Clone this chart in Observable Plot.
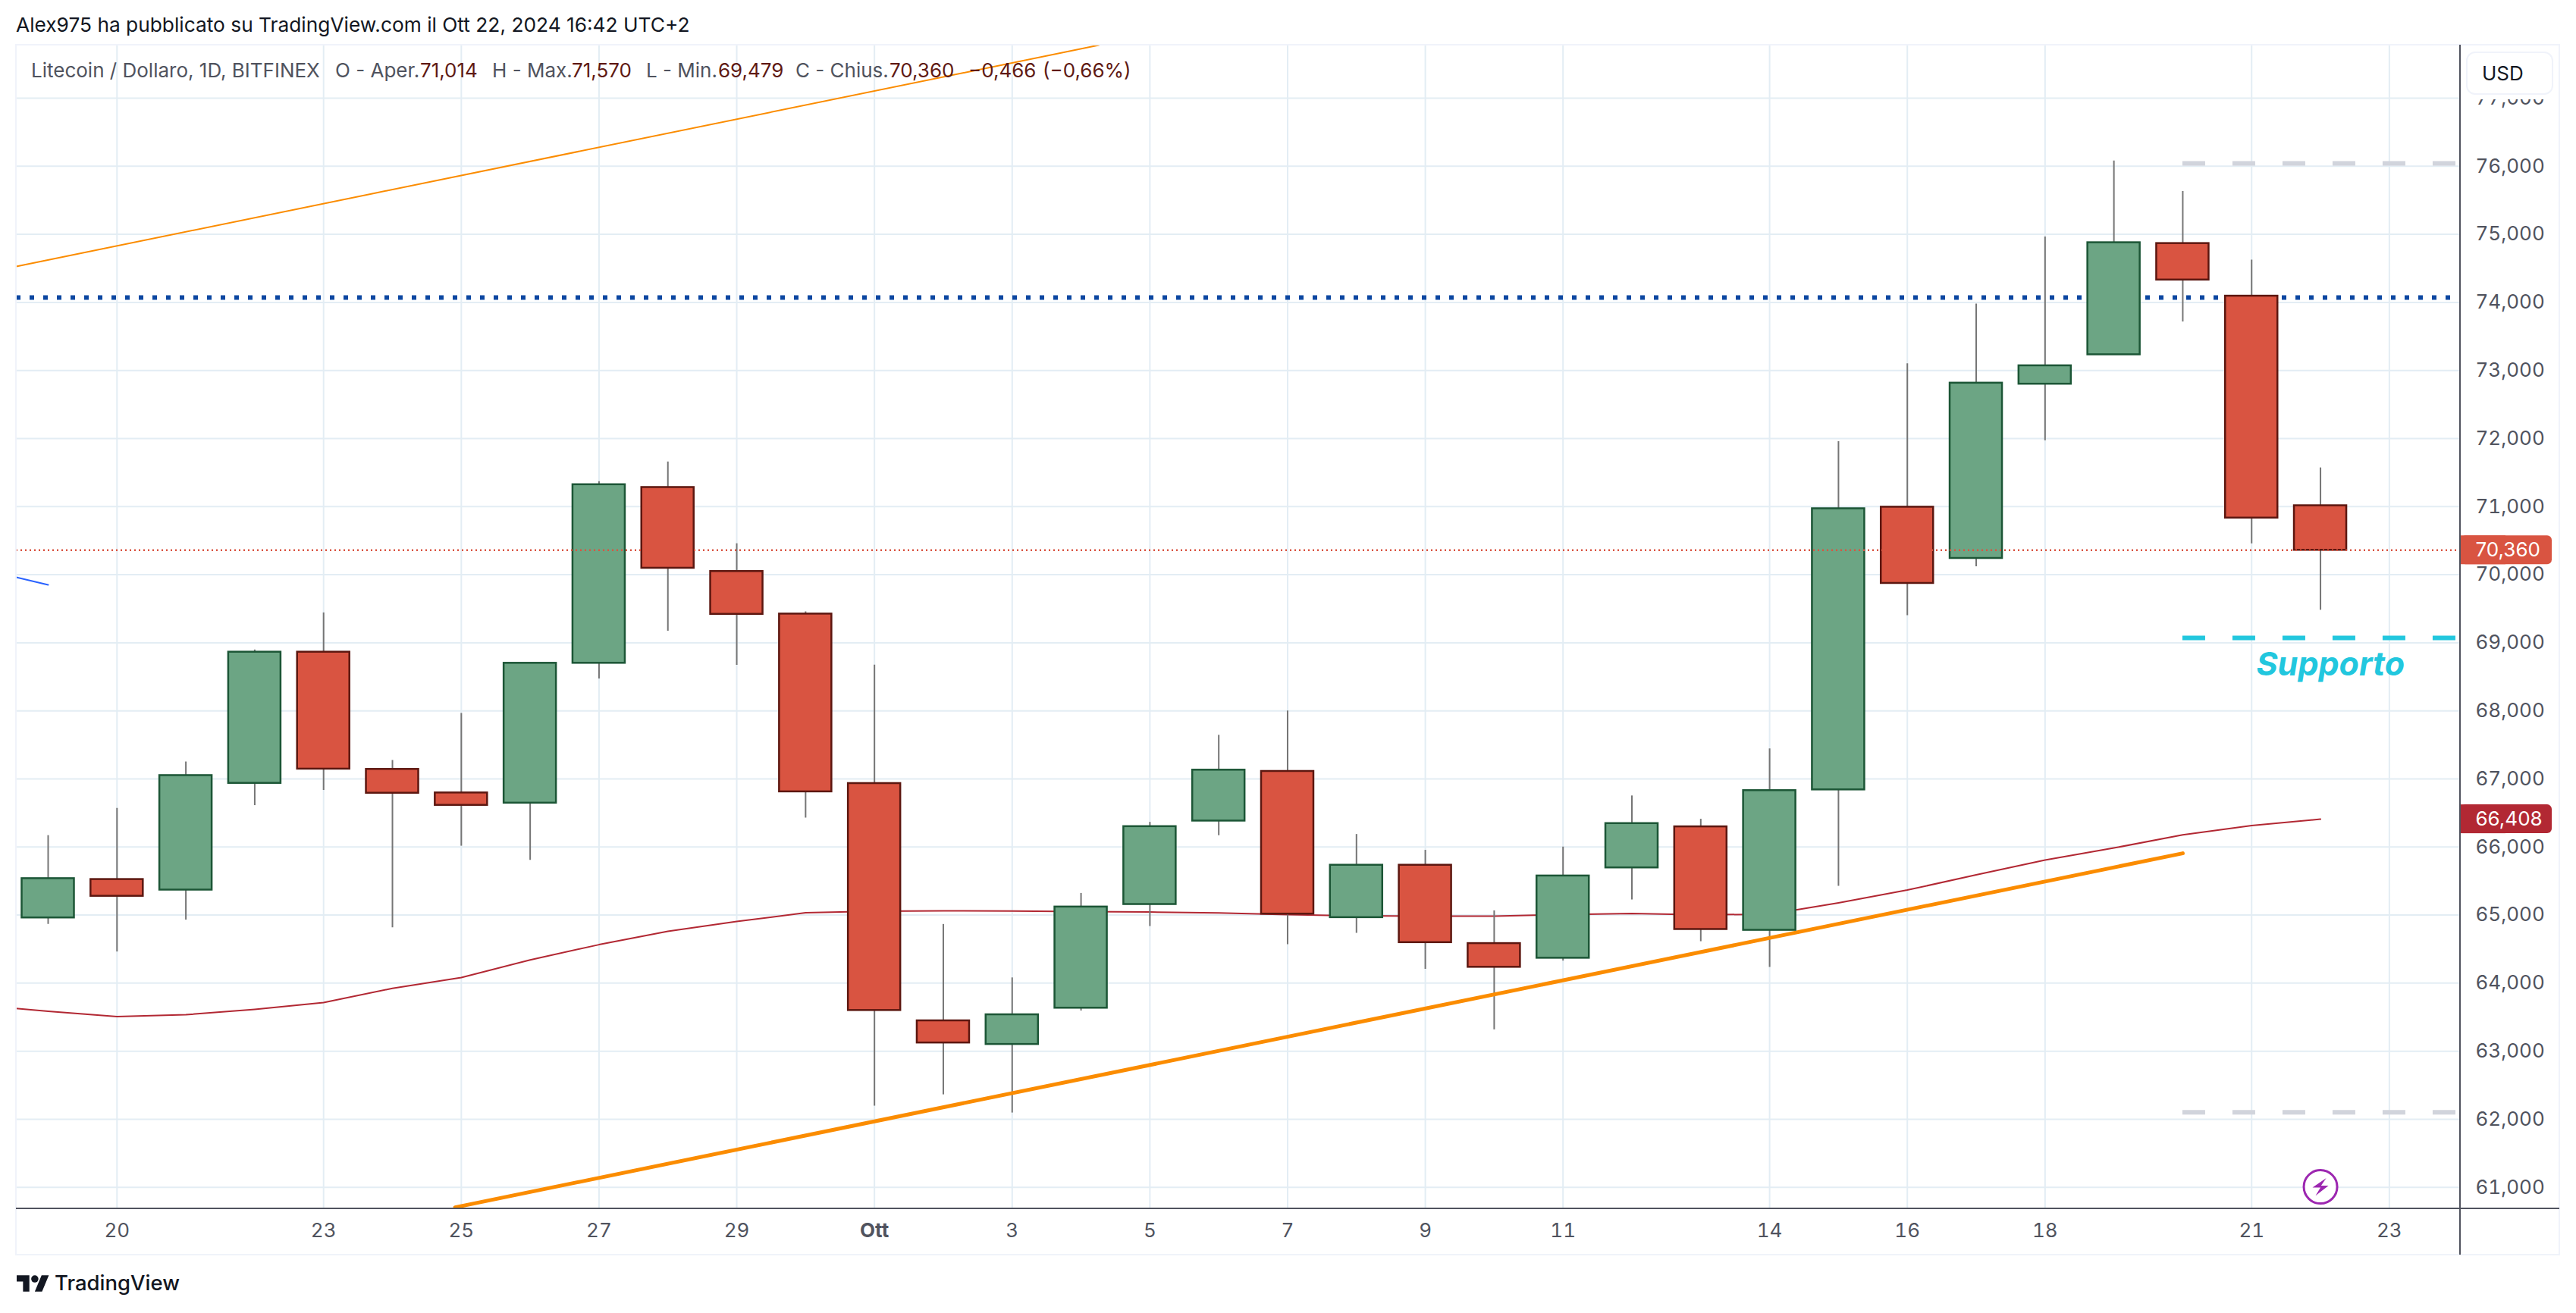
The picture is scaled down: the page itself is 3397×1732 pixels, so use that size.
<!DOCTYPE html>
<html lang="it">
<head>
<meta charset="utf-8">
<script src="https://cdn.jsdelivr.net/npm/d3@7"></script>
<script src="https://cdn.jsdelivr.net/npm/@observablehq/plot@0.6"></script>
<style>
  html, body { margin:0; padding:0; background:#fff; overflow:hidden; }
  body { width:3397px; height:1732px; position:relative; font-family:Inter,sans-serif; }
  #header { height:58px; position:relative; }
  #header span { position:absolute; left:21px; top:17px; font-size:26.3px; line-height:31px; color:#131722; white-space:nowrap; }
  #chart { height:1597px; position:relative; }
  #chart svg { display:block; }
  #footer { height:77px; position:relative; }
  .frame { position:absolute; left:20px; top:58px; width:3356px; height:1598px; box-sizing:border-box; border:2px solid #f0f3fa; pointer-events:none; }
  .bar { position:absolute; background:#50535e; }
  #legend span { position:absolute; top:78px; font-size:26px; line-height:30px; white-space:nowrap; color:#50535e; }
  #legend span.v { color:#5f1a14; }
  #usd { position:absolute; left:3252px; top:68px; width:115px; height:57px; box-sizing:border-box; background:#fff; border:2px solid #f0f3fa; border-radius:12px; font-size:26px; line-height:53px; padding-left:19px; color:#131722; box-shadow:0 6px 0 #fff; }
  #wordmark { position:absolute; left:72px; top:1675px; font-size:27.5px; line-height:34px; font-weight:500; color:#131722; }
  #logo { position:absolute; left:22px; top:1682px; }
</style>
</head>
<body>
<div id="header"><span>Alex975 ha pubblicato su TradingView.com il Ott 22, 2024 16:42 UTC+2</span></div>
<div id="chart"></div>
<div id="footer"></div>
<div class="frame"></div>
<div class="bar" style="left:3243px;top:59px;width:2px;height:1596px"></div>
<div class="bar" style="left:21px;top:1593px;width:3354px;height:2px"></div>
<div id="legend"></div>
<div id="usd">USD</div>
<svg id="logo" width="43" height="22" viewBox="0 4 36 18"><path fill="#131722" d="M14 22H7V11H0V4h14v18zM28 22h-8l7.5-18h8L28 22z"/><circle fill="#131722" cx="20" cy="8" r="4"/></svg>
<div id="wordmark">TradingView</div>
<script>
const days = ["2024-09-19","2024-09-20","2024-09-21","2024-09-22","2024-09-23","2024-09-24","2024-09-25","2024-09-26","2024-09-27","2024-09-28","2024-09-29","2024-09-30","2024-10-01","2024-10-02","2024-10-03","2024-10-04","2024-10-05","2024-10-06","2024-10-07","2024-10-08","2024-10-09","2024-10-10","2024-10-11","2024-10-12","2024-10-13","2024-10-14","2024-10-15","2024-10-16","2024-10-17","2024-10-18","2024-10-19","2024-10-20","2024-10-21","2024-10-22"];
const opens  = [64959,65523,65368,66936,68863,67141,66795,66645,68700,71282,70048,69423,66933,63447,63100,63633,65156,66382,67111,64963,65733,64582,64367,65694,66297,64777,66840,70993,70240,72800,73232,74866,74093,71014];
const highs  = [66168,66568,67250,68895,69440,67272,67963,68700,71367,71657,70456,69456,68672,64863,64078,65319,66363,67642,68000,66185,65952,65063,66000,66751,66408,67441,71955,73100,73978,74963,76078,75631,74623,71570];
const lows   = [64864,64459,64927,66609,66832,64814,66013,65804,68469,69171,68670,66425,62193,62360,62093,63592,64833,66167,64566,64733,64204,63315,64326,65223,64610,64232,65423,69400,70117,71970,73232,73714,70454,69479];
const closes = [65536,65277,67050,68863,67145,66791,66613,68700,71323,70096,69419,66811,63599,63122,63536,65119,66300,67130,65015,65733,64596,64234,65575,66345,64789,66829,70970,69873,72815,73070,74878,74330,70833,70360];
const maValues = [63675,63586,63509,63536,63614,63714,63923,64082,64341,64565,64760,64905,65033,65055,65063,65059,65052,65044,65030,65007,64989,64985,64985,65007,65022,65004,65011,65178,65367,65590,65807,65985,66178,66315,66408];
const maDays = ["2024-09-18", ...days];

const tickDays   = ["2024-09-20","2024-09-23","2024-09-25","2024-09-27","2024-09-29","2024-10-03","2024-10-05","2024-10-07","2024-10-09","2024-10-11","2024-10-14","2024-10-16","2024-10-18","2024-10-21","2024-10-23"];
const tickLabels = ["20","23","25","27","29","3","5","7","9","11","14","16","18","21","23"];
const monthDay = "2024-10-01", monthLabel = "Ott";
const priceTicks = [61000,62000,63000,64000,65000,66000,67000,68000,69000,70000,71000,72000,73000,74000,75000,76000,77000];

const upperTrendDays = ["2024-09-18T12:54Z","2024-10-04T06:15Z"], upperTrendPrices = [74528,77780];
const lowerTrendDays = ["2024-09-24T21:50Z","2024-10-20"],        lowerTrendPrices = [60706,65907];
const blueRay = [["2024-09-18T12:54Z",69962],["2024-09-19",69850]];
const hLevel = 74071, lastPrice = 70360, lastMA = 66408, support = 69070, upperBand = 76042, lowerBand = 62102;
const bandStart = "2024-10-20", eventDay = "2024-10-22", eventPrice = 61007;
const noteLabel = "Supporto", noteDay = "2024-10-22T03:30Z", notePrice = 68670;

const legendItems = [
  ["Litecoin / Dollaro, 1D, BITFINEX",41,""],["O - Aper.",442,""],["71,014",554,"v"],["H - Max.",649,""],["71,570",754,"v"],
  ["L - Min.",852,""],["69,479",947,"v"],["C - Chius.",1049,""],["70,360",1173,"v"],["\u22120,466",1277,"v"],["(\u22120,66%)",1375,"v"]
];

const D = s => new Date(s);
const candles = days.map((d,i)=>({date:D(d),open:opens[i],high:highs[i],low:lows[i],close:closes[i],up:closes[i]>=opens[i]}));
const ma = maDays.map((d,i)=>({date:D(d),value:maValues[i]}));

const xDomain = [D("2024-09-18T12:54Z"), D("2024-10-24T00:45Z")];
const yDomain = [60685, 77780];
const gridCol = "#e3edf4", axisCol = "#50535e";
const green="#6ca584", greenDark="#1c5636", red="#d95441", redDark="#5c1710", maCol="#b22833", orange="#fb8c00";

const bolt = { draw(c){ c.moveTo(7.6,-11.7); c.lineTo(-10.6,1); c.lineTo(0,1); c.lineTo(-6.5,11.7); c.lineTo(10.6,-1.7); c.lineTo(0.8,-1.7); c.closePath(); } };

const labelRect = (p,fill) => [
  Plot.rect([p],{x1:()=>xDomain[1],x2:()=>xDomain[1],y1:d=>d,y2:d=>d,insetLeft:1,insetRight:-121,insetTop:-19,insetBottom:-19,fill,rx:6}),
  Plot.rect([p],{x1:()=>xDomain[1],x2:()=>xDomain[1],y1:d=>d,y2:d=>d,insetLeft:1,insetRight:-60,insetTop:-19,insetBottom:-19,fill}),
  Plot.text([p],{x:()=>xDomain[1],y:d=>d,text:d=>d3.format(",")(d),textAnchor:"start",dx:20,fill:"#fff",fontSize:26})
];

const chart = Plot.plot({
  width:3397, height:1597,
  marginLeft:21, marginRight:153, marginTop:1, marginBottom:61,
  style:{fontFamily:"Inter, sans-serif", background:"transparent", overflow:"visible"},
  x:{type:"utc", domain:xDomain, label:null},
  y:{domain:yDomain, label:null},
  marks:[
    Plot.gridY({ticks:priceTicks, stroke:gridCol, strokeOpacity:1, strokeWidth:2}),
    Plot.gridX({ticks:[...tickDays.map(D), D(monthDay)], stroke:gridCol, strokeOpacity:1, strokeWidth:2}),
    Plot.axisY({ticks:priceTicks, anchor:"right", tickSize:0, tickPadding:20, tickFormat:d3.format(","), fontSize:26, fill:axisCol, label:null}),
    Plot.axisX({ticks:tickDays.map(D), tickSize:0, tickPadding:19, fontSize:26, fill:axisCol, label:null,
      tickFormat:d=>tickLabels[tickDays.findIndex(t=>+D(t)===+d)]}),
    Plot.axisX({ticks:[D(monthDay)], tickSize:0, tickPadding:19, fontSize:26, fontWeight:700, fill:axisCol, label:null, tickFormat:()=>monthLabel}),

    Plot.ruleY([hLevel],{stroke:"#0c47a1",strokeWidth:6,strokeDasharray:"6,12"}),
    Plot.line(ma,{x:"date",y:"value",stroke:maCol,strokeWidth:2,clip:true}),
    Plot.ruleX(candles,{x:"date",y1:"low",y2:"high",stroke:"#757575",strokeWidth:2}),
    Plot.line(upperTrendDays.map((d,i)=>({d:D(d),p:upperTrendPrices[i]})),{x:"d",y:"p",stroke:orange,strokeWidth:2,clip:true}),
    Plot.line(lowerTrendDays.map((d,i)=>({d:D(d),p:lowerTrendPrices[i]})),{x:"d",y:"p",stroke:orange,strokeWidth:5,clip:true}),
    Plot.line(blueRay,{x:d=>D(d[0]),y:d=>d[1],stroke:"#2962ff",strokeWidth:2}),
    Plot.rect(candles,{x1:"date",x2:"date",y1:"open",y2:"close",insetLeft:-34.5,insetRight:-34.5,
      fill:d=>d.up?green:red, stroke:d=>d.up?greenDark:redDark, strokeWidth:2.5}),

    Plot.ruleY([lastPrice],{stroke:red,strokeWidth:2.5,strokeDasharray:"2,4"}),
    Plot.ruleY([upperBand],{x1:D(bandStart),x2:xDomain[1],stroke:"#d1d4dc",strokeWidth:6,strokeDasharray:"30,36"}),
    Plot.ruleY([lowerBand],{x1:D(bandStart),x2:xDomain[1],stroke:"#d1d4dc",strokeWidth:6,strokeDasharray:"30,36"}),
    Plot.ruleY([support],{x1:D(bandStart),x2:xDomain[1],stroke:"#22c7de",strokeWidth:6,strokeDasharray:"30,36"}),
    Plot.text([noteLabel],{x:D(noteDay),y:notePrice,text:d=>d,fill:"#22c7de",fontSize:43,fontWeight:700,fontStyle:"italic"}),
    Plot.dot([eventDay],{x:d=>D(d),y:eventPrice,r:22,fill:"#fff",stroke:"#9c27b0",strokeWidth:3}),
    Plot.dot([eventDay],{x:d=>D(d),y:eventPrice,symbol:bolt,r:10,fill:"#9c27b0",stroke:"none"}),

    ...labelRect(lastPrice,red),
    ...labelRect(lastMA,maCol)
  ]
});
document.getElementById("chart").append(chart);

const legend = document.getElementById("legend");
for (const [t,x,c] of legendItems) {
  const s = document.createElement("span");
  s.textContent = t; s.style.left = x+"px"; if (c) s.className = c;
  legend.append(s);
}
</script>
</body>
</html>
